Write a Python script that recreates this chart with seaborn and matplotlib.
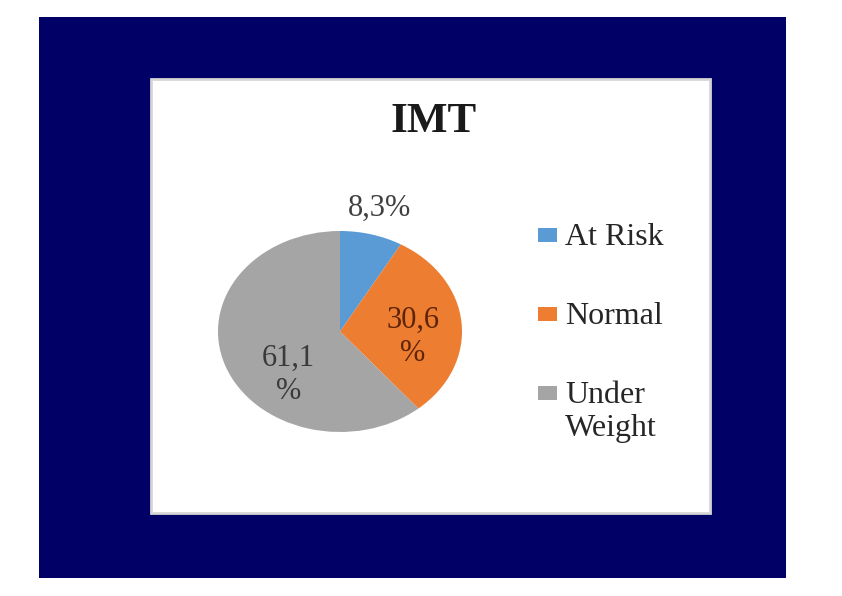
"""
IMT pie chart — share of children per nutrition status.
"""

import matplotlib
matplotlib.use("Agg")
import matplotlib.pyplot as plt
import numpy as np
import seaborn as sns
from matplotlib.patches import Rectangle

CATEGORIES = ["At Risk", "Normal", "Under\nWeight"]
SHARES = [8.3, 30.6, 61.1]
LABEL_TEXT = ["8,3%", "30,6\n%", "61,1\n%"]
TITLE = "IMT"

sns.set_theme(style="white")
plt.rcParams["font.family"] = ["Liberation Serif", "DejaVu Serif"]
PIE_COLORS = sns.color_palette(["#5B9BD5", "#ED7D31", "#A5A5A5"])
LABEL_COLORS = ["#404040", "#5e2408", "#3a3a3a"]
# distance from centre (in radii) and extra vertical nudge for each label
LABEL_DIST = [1.27, 0.60, 0.45]
LABEL_NUDGE = [0.0, -0.11, -0.275]

W, H = 842, 596
fig = plt.figure(figsize=(W / 100, H / 100), dpi=100)
fig.patch.set_facecolor("white")


def px_rect(x0, y0, x1, y1):
    """Pixel box (top-left origin) -> figure fraction [l, b, w, h]."""
    return [x0 / W, 1 - y1 / H, (x1 - x0) / W, (y1 - y0) / H]


# navy slide and white chart panel behind the plot
l, b, w, h = px_rect(39, 17, 786, 578)
fig.patches.append(Rectangle((l, b), w, h, transform=fig.transFigure,
                             facecolor="#000066", edgecolor="none", zorder=0))
l, b, w, h = px_rect(151, 79, 710, 513)
fig.patches.append(Rectangle((l, b), w, h, transform=fig.transFigure,
                             facecolor="white", edgecolor="#d6d6d6", linewidth=2, zorder=1))

# the source picture is stretched sideways, so the pie is drawn in a non-square axes
ax = fig.add_axes(px_rect(218, 231, 462, 432))
ax.set_zorder(2)
wedges, _ = ax.pie(SHARES, colors=PIE_COLORS, startangle=90, counterclock=False,
                   radius=1.0, wedgeprops={"linewidth": 0})
ax.set_aspect("auto")
ax.set_xlim(-1, 1)
ax.set_ylim(-1, 1)
ax.axis("off")

for wedge, text, dist, nudge, color in zip(wedges, LABEL_TEXT, LABEL_DIST, LABEL_NUDGE, LABEL_COLORS):
    mid = np.deg2rad((wedge.theta1 + wedge.theta2) / 2)
    ax.text(dist * np.cos(mid), dist * np.sin(mid) + nudge, text,
            ha="center", va="center", fontsize=22, color=color, clip_on=False)

fig.text(434 / W, 1 - 122 / H, TITLE, ha="center", va="center",
         fontsize=31, fontweight="bold", color="#1a1a1a", zorder=3)

# legend drawn Excel-style: square marker beside the first line of each label
LEG_X, LEG_Y0, LEG_STEP = 538, 235, 79
for i, (wedge, cat) in enumerate(zip(wedges, CATEGORIES)):
    yc = LEG_Y0 + i * LEG_STEP
    l, b, w, h = px_rect(LEG_X, yc - 7, LEG_X + 19, yc + 7)
    fig.patches.append(Rectangle((l, b), w, h, transform=fig.transFigure,
                                 facecolor=wedge.get_facecolor(), edgecolor="none", zorder=3))
    fig.text((LEG_X + 27) / W, 1 - (yc - 12) / H, cat, ha="left", va="top",
             fontsize=23, color="#262626", zorder=3)

plt.savefig("out.png", dpi=100)
plt.close()
